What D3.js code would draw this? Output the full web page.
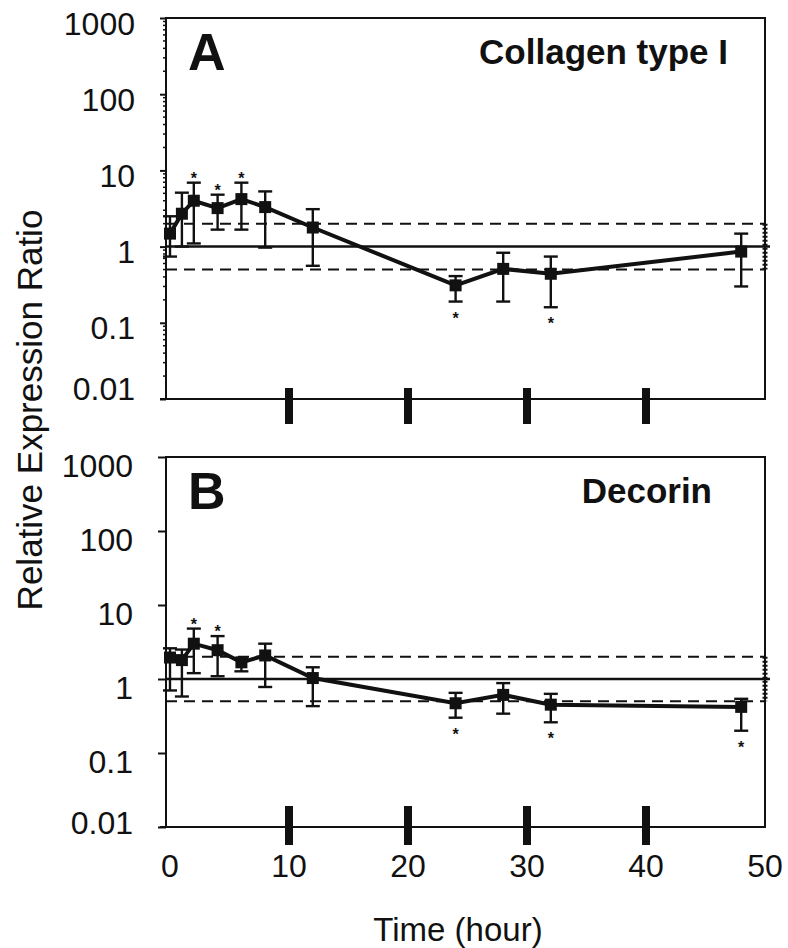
<!DOCTYPE html>
<html>
<head>
<meta charset="utf-8">
<script src="https://cdn.jsdelivr.net/npm/d3@7"></script>
<style>
  body { margin: 0; background: #fff; }
  svg { display: block; font-family: "Liberation Sans", Arial, sans-serif; }
</style>
</head>
<body>
<div class="visContainer"></div>
<script>
// Sampling times (hours).
const times = [0, 1, 2, 4, 6, 8, 12, 24, 28, 32, 48];

// Collagen type I: mean ratio, lower and upper error bar ends, significance (1 above, -1 below).
const collagenMean = [1.48, 2.7, 4.0, 3.2, 4.2, 3.3, 1.78, 0.31, 0.51, 0.44, 0.86];
const collagenLow = [0.74, 1.0, 1.1, 1.67, 1.67, 0.97, 0.56, 0.19, 0.19, 0.16, 0.30];
const collagenHigh = [2.5, 5.1, 6.9, 4.8, 6.9, 5.3, 3.1, 0.41, 0.83, 0.74, 1.48];
const collagenSig = [0, 0, 1, 1, 1, 0, 0, -1, 0, -1, 0];

// Decorin.
const decorinMean = [1.95, 1.8, 3.0, 2.45, 1.68, 2.08, 1.03, 0.47, 0.61, 0.45, 0.42];
const decorinLow = [0.7, 0.58, 1.2, 1.09, 1.27, 0.78, 0.43, 0.3, 0.34, 0.26, 0.2];
const decorinHigh = [2.6, 2.5, 4.8, 3.8, 1.9, 3.0, 1.44, 0.65, 0.88, 0.63, 0.54];
const decorinSig = [0, 0, 1, 1, 0, 0, 0, -1, 0, -1, -1];

// Reference levels (no change and two-fold band).
const refSolid = [1];
const refDashed = [0.5, 2];

// Axis ticks.
const yTicks = [0.01, 0.1, 1, 10, 100, 1000];
const xTicks = [0, 10, 20, 30, 40, 50];
const thickTicks = [10, 20, 30, 40];

const width = 788;
const height = 948;
const left = 166;
const right = 765;

const svg = d3.select('.visContainer')
              .append('svg')
              .attr('width', width)
              .attr('height', height);

const xScale = d3.scaleLinear()
                 .domain([0, 50])
                 .range([170, right]);

function drawPanel(cfg) {
    const yScale = d3.scaleLog()
                     .domain([0.01, 1000])
                     .range([cfg.bottom, cfg.top]);

    const g = svg.append('g');

    // Reference lines.
    g.selectAll('.ref-dash')
     .data(refDashed)
     .enter()
     .append('line')
     .attr('x1', left)
     .attr('x2', right)
     .attr('y1', (d) => yScale(d))
     .attr('y2', (d) => yScale(d))
     .attr('stroke', '#111')
     .attr('stroke-width', 2)
     .attr('stroke-dasharray', '11,7');

    g.selectAll('.ref-solid')
     .data(refSolid)
     .enter()
     .append('line')
     .attr('x1', left)
     .attr('x2', right + 5)
     .attr('y1', (d) => yScale(d))
     .attr('y2', (d) => yScale(d))
     .attr('stroke', '#111')
     .attr('stroke-width', 2.5);

    // Dotted band marker on the right edge.
    g.append('line')
     .attr('x1', xScale(50))
     .attr('x2', xScale(50))
     .attr('y1', yScale(refDashed[1]))
     .attr('y2', yScale(refDashed[0]))
     .attr('stroke', '#111')
     .attr('stroke-width', 5)
     .attr('stroke-dasharray', '2,2');

    // Frame.
    g.append('rect')
     .attr('x', left)
     .attr('y', cfg.top)
     .attr('width', right - left)
     .attr('height', cfg.bottom - cfg.top)
     .attr('fill', 'none')
     .attr('stroke', '#111')
     .attr('stroke-width', 2);

    // Left axis.
    const yAxis = d3.axisLeft(yScale)
                    .tickValues(yTicks)
                    .tickSize(cfg.tickLen)
                    .tickPadding(25)
                    .tickFormat((d) => String(d));
    const ya = g.append('g')
                .attr('transform', 'translate(' + left + ',0)')
                .call(yAxis);
    ya.select('.domain').remove();
    ya.selectAll('line').attr('stroke', '#111').attr('stroke-width', 2);
    ya.selectAll('text')
      .attr('font-size', 32)
      .attr('fill', '#111')
      .attr('dy', (d) => d === 0.01 ? cfg.lastShift : cfg.labelShift);

    if (cfg.minor) {
        const minor = [];
        yTicks.slice(0, -1).forEach((p) => {
            for (let k = 2; k < 10; k++) minor.push(p * k);
        });
        g.selectAll('.minor')
         .data(minor)
         .enter()
         .append('line')
         .attr('x1', left - 3)
         .attr('x2', left)
         .attr('y1', (d) => yScale(d))
         .attr('y2', (d) => yScale(d))
         .attr('stroke', '#111')
         .attr('stroke-width', 1.5);
    }

    // Bottom axis with heavy tick marks.
    g.append('line')
     .attr('x1', left - 6)
     .attr('x2', right)
     .attr('y1', cfg.bottom)
     .attr('y2', cfg.bottom)
     .attr('stroke', '#111')
     .attr('stroke-width', 2);

    g.selectAll('.thick')
     .data(thickTicks)
     .enter()
     .append('rect')
     .attr('x', (d) => xScale(d) - 4)
     .attr('y', cfg.bottom - cfg.tickUp)
     .attr('width', 8)
     .attr('height', cfg.tickUp + cfg.tickDown)
     .attr('fill', '#111');

    // Data line.
    const pts = times.map((t, i) => ({
        t: t, v: cfg.mean[i], lo: cfg.low[i], hi: cfg.high[i], s: cfg.sig[i]
    }));

    g.append('path')
     .datum(pts)
     .attr('fill', 'none')
     .attr('stroke', '#111')
     .attr('stroke-width', 4)
     .attr('d', d3.line().x((d) => xScale(d.t)).y((d) => yScale(d.v)));

    // Error bars.
    const bars = g.selectAll('.bar')
                  .data(pts)
                  .enter()
                  .append('g');
    bars.append('line')
        .attr('x1', (d) => xScale(d.t))
        .attr('x2', (d) => xScale(d.t))
        .attr('y1', (d) => yScale(d.lo))
        .attr('y2', (d) => yScale(d.hi))
        .attr('stroke', '#111')
        .attr('stroke-width', 2.4);
    bars.append('line')
        .attr('x1', (d) => xScale(d.t) - 7)
        .attr('x2', (d) => xScale(d.t) + 7)
        .attr('y1', (d) => yScale(d.hi))
        .attr('y2', (d) => yScale(d.hi))
        .attr('stroke', '#111')
        .attr('stroke-width', 2.4);
    bars.append('line')
        .attr('x1', (d) => xScale(d.t) - 7)
        .attr('x2', (d) => xScale(d.t) + 7)
        .attr('y1', (d) => yScale(d.lo))
        .attr('y2', (d) => yScale(d.lo))
        .attr('stroke', '#111')
        .attr('stroke-width', 2.4);

    // Markers.
    g.selectAll('.pt')
     .data(pts)
     .enter()
     .append('rect')
     .attr('x', (d) => xScale(d.t) - 6)
     .attr('y', (d) => yScale(d.v) - 6)
     .attr('width', 12)
     .attr('height', 12)
     .attr('fill', '#111');

    // Significance stars.
    g.selectAll('.star')
     .data(pts.filter((d) => d.s !== 0))
     .enter()
     .append('text')
     .attr('x', (d) => xScale(d.t))
     .attr('y', (d) => d.s > 0 ? yScale(d.hi) + 1 : yScale(d.lo) + 22)
     .attr('text-anchor', 'middle')
     .attr('font-size', 16)
     .attr('font-weight', 'bold')
     .attr('fill', '#111')
     .text('*');

    // Panel letter and gene name.
    g.append('text')
     .attr('x', 188)
     .attr('y', cfg.top + cfg.letterY)
     .attr('font-size', 52)
     .attr('font-weight', 'bold')
     .attr('fill', '#111')
     .text(cfg.letter);

    g.append('text')
     .attr('x', cfg.nameX)
     .attr('y', cfg.top + cfg.nameY)
     .attr('text-anchor', 'end')
     .attr('font-size', 35)
     .attr('font-weight', 'bold')
     .attr('fill', '#111')
     .text(cfg.name);
}

drawPanel({
    top: 18, bottom: 399, tickLen: 6, minor: true, labelShift: '0.5em', lastShift: '0em',
    tickUp: 11, tickDown: 25,
    mean: collagenMean, low: collagenLow, high: collagenHigh, sig: collagenSig,
    letter: 'A', letterY: 52, name: 'Collagen type I', nameX: 728, nameY: 46
});

drawPanel({
    top: 457, bottom: 827, tickLen: 8, minor: false, labelShift: '0.6em', lastShift: '0.2em',
    tickUp: 21, tickDown: 18,
    mean: decorinMean, low: decorinLow, high: decorinHigh, sig: decorinSig,
    letter: 'B', letterY: 52, name: 'Decorin', nameX: 712, nameY: 46
});

// Shared x labels.
svg.selectAll('.xlab')
   .data(xTicks)
   .enter()
   .append('text')
   .attr('x', (d) => xScale(d))
   .attr('y', 877)
   .attr('text-anchor', 'middle')
   .attr('font-size', 32)
   .attr('fill', '#111')
   .text((d) => d);

// Axis titles.
svg.append('text')
   .attr('x', 458)
   .attr('y', 941)
   .attr('text-anchor', 'middle')
   .attr('font-size', 33)
   .attr('fill', '#111')
   .text('Time (hour)');

svg.append('text')
   .attr('transform', 'translate(42,' + 410 + ') rotate(-90)')
   .attr('text-anchor', 'middle')
   .attr('font-size', 35)
   .attr('fill', '#111')
   .text('Relative Expression Ratio');
</script>
</body>
</html>
